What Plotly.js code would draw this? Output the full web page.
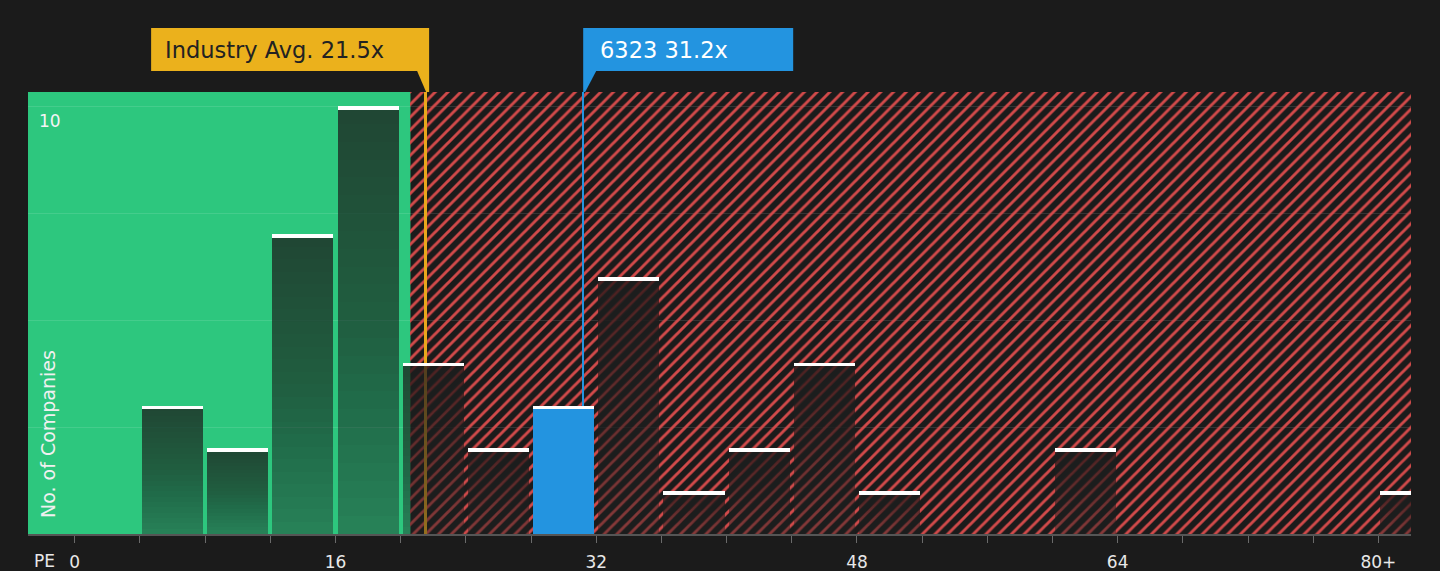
<!DOCTYPE html>
<html>
<head>
<meta charset="utf-8">
<script src="https://cdn.plot.ly/plotly-3.0.1.min.js"></script>
<style>
  html, body { margin: 0; padding: 0; background: #1b1b1b; }
  #chart { width: 1440px; height: 571px; }
</style>
</head>
<body>
<div id="chart"></div>
<script>
// ---- data ----
const binCenters = [2, 6, 10, 14, 18, 22, 26, 30, 34, 38, 42, 46, 50, 54, 58, 62, 66, 70, 74, 78, 82];
const companyCounts = [0, 3, 2, 7, 10, 4, 2, 3, 6, 1, 2, 4, 1, 0, 0, 2, 0, 0, 0, 0, 1];
const industryAvg = 21.5;
const companyPE = 31.2;
const companyName = "6323";
const companyBinIndex = 7;         // 28-32 bin holds the company
const fairZoneEnd = 20.6;          // end of green zone
const xTickVals = [0, 4, 8, 12, 16, 20, 24, 28, 32, 36, 40, 44, 48, 52, 56, 60, 64, 68, 72, 76, 80];
const xTickText = ["0", "", "", "", "16", "", "", "", "32", "", "", "", "48", "", "", "", "64", "", "", "", "80+"];
const yTickVals = [0, 2.5, 5, 7.5, 10];
const yTickText = ["", "", "", "", "10"];

// ---- layout constants ----
const xRange = [-2.87, 82];
const yRange = [0, 10.33];
const barW = 3.75;
const capH = 0.08;
const GREEN = '#2dc77e';
const YELLOW = '#ebb11c';
const BLUE = '#2394e0';

const traces = [];

// hatched "expensive" zone
traces.push({
  type: 'bar', x: [(fairZoneEnd + xRange[1]) / 2], y: [yRange[1]], base: [0],
  width: [xRange[1] - fairZoneEnd],
  marker: { color: 'rgba(0,0,0,0)', line: { width: 0 },
    pattern: { shape: '/', fgcolor: '#d24a4a', bgcolor: 'rgba(0,0,0,0)', size: 9, solidity: 0.32 } },
  hoverinfo: 'skip', showlegend: false
});
// industry avg line
traces.push({
  type: 'bar', x: [industryAvg], y: [yRange[1]], base: [0], width: [0.17],
  marker: { color: '#e9a71c', line: { width: 0 } }, hoverinfo: 'skip', showlegend: false
});
// company line
traces.push({
  type: 'bar', x: [companyPE], y: [yRange[1]], base: [0], width: [0.09],
  marker: { color: BLUE, line: { width: 0 } }, hoverinfo: 'skip', showlegend: false
});

// gradient bars (layered, darker at the top)
const N = 24;
for (let k = 0; k < N; k++) {
  const a = k === 0 ? 0.42 : 0.031;
  traces.push({
    type: 'bar', x: binCenters,
    base: companyCounts.map(v => v * k / N),
    y: companyCounts.map(v => v * (N - k) / N),
    width: barW,
    marker: { color: `rgba(32,34,33,${a})`, line: { width: 0 } },
    hoverinfo: 'skip', showlegend: false
  });
}
// company bar
traces.push({
  type: 'bar', x: [binCenters[companyBinIndex]], y: [companyCounts[companyBinIndex]], base: [0],
  width: barW, marker: { color: BLUE, line: { width: 0 } }, hoverinfo: 'skip', showlegend: false
});
// white caps
traces.push({
  type: 'bar', x: binCenters,
  base: companyCounts.map(v => v > 0 ? v - capH : null),
  y: companyCounts.map(v => v > 0 ? capH : null),
  width: barW, marker: { color: '#ffffff', line: { width: 0 } }, hoverinfo: 'skip', showlegend: false
});

const boxTop = 1.145, boxBot = 1.0475;
const layout = {
  width: 1440, height: 571,
  paper_bgcolor: '#1b1b1b', plot_bgcolor: '#1b1b1b',
  margin: { l: 28, r: 29, t: 92, b: 37 },
  barmode: 'overlay', bargap: 0,
  showlegend: false,
  font: { family: 'DejaVu Sans', color: '#e8e8e8', size: 17 },
  xaxis: {
    range: xRange, tickmode: 'array', tickvals: xTickVals, ticktext: xTickText,
    ticks: 'outside', ticklen: 7, tickwidth: 1, tickcolor: '#6a6a6a',
    showline: true, linecolor: '#555555', linewidth: 2,
    showgrid: false, zeroline: false, fixedrange: true,
    tickfont: { size: 17, color: '#e8e8e8' }, ticklabelstandoff: 5
  },
  yaxis: {
    range: yRange, tickmode: 'array', tickvals: yTickVals, ticktext: yTickText,
    showgrid: true, gridcolor: 'rgba(255,255,255,0.11)', gridwidth: 1,
    zeroline: false, showline: false, ticks: '',
    ticklabelposition: 'inside bottom', ticklabelstandoff: 8, ticklabelshift: 3,
    tickfont: { size: 17, color: '#f4f4f4' }, fixedrange: true
  },
  shapes: [
    { type: 'rect', layer: 'below', xref: 'x', yref: 'paper', x0: xRange[0], x1: fairZoneEnd, y0: 0, y1: 1,
      fillcolor: GREEN, line: { width: 0 } },
    // industry label box + pointer
    { type: 'rect', xref: 'x', xsizemode: 'pixel', xanchor: industryAvg, x0: -274, x1: 4,
      yref: 'paper', y0: boxBot, y1: boxTop, fillcolor: YELLOW, line: { width: 0 } },
    { type: 'path', xref: 'x', xsizemode: 'pixel', xanchor: industryAvg, yref: 'paper',
      path: `M -8,${boxBot} L 4,${boxBot} L 4,1 L 1,1 Z`, fillcolor: YELLOW, line: { width: 0 } },
    // company label box + pointer
    { type: 'rect', xref: 'x', xsizemode: 'pixel', xanchor: companyPE, x0: 0, x1: 210,
      yref: 'paper', y0: boxBot, y1: boxTop, fillcolor: BLUE, line: { width: 0 } },
    { type: 'path', xref: 'x', xsizemode: 'pixel', xanchor: companyPE, yref: 'paper',
      path: `M 0,${boxBot} L 13,${boxBot} L 2,1 L 0,1 Z`, fillcolor: BLUE, line: { width: 0 } }
  ],
  annotations: [
    { xref: 'x', yref: 'paper', x: industryAvg, xanchor: 'left', xshift: -262,
      y: (boxTop + boxBot) / 2, yanchor: 'middle', yshift: -1, showarrow: false,
      text: 'Industry Avg. ' + industryAvg + 'x', font: { size: 22.5, color: '#222222', family: 'DejaVu Sans' } },
    { xref: 'x', yref: 'paper', x: companyPE, xanchor: 'left', xshift: 15,
      y: (boxTop + boxBot) / 2, yanchor: 'middle', yshift: -1, showarrow: false,
      text: companyName + ' ' + companyPE + 'x', font: { size: 22.5, color: '#ffffff', family: 'DejaVu Sans' } },
    { xref: 'paper', yref: 'paper', x: 0.0145, xanchor: 'center', y: 0, yanchor: 'bottom', yshift: 14,
      textangle: -90, showarrow: false, text: 'No. of Companies',
      font: { size: 19, color: '#f0f0f0', family: 'DejaVu Sans' } },
    { xref: 'paper', yref: 'paper', x: 0.003, xanchor: 'left', y: -0.061, yanchor: 'middle',
      showarrow: false, text: 'PE', font: { size: 17, color: '#e8e8e8', family: 'DejaVu Sans' } }
  ]
};

Plotly.newPlot('chart', traces, layout, { displayModeBar: false, staticPlot: true });
</script>
</body>
</html>
